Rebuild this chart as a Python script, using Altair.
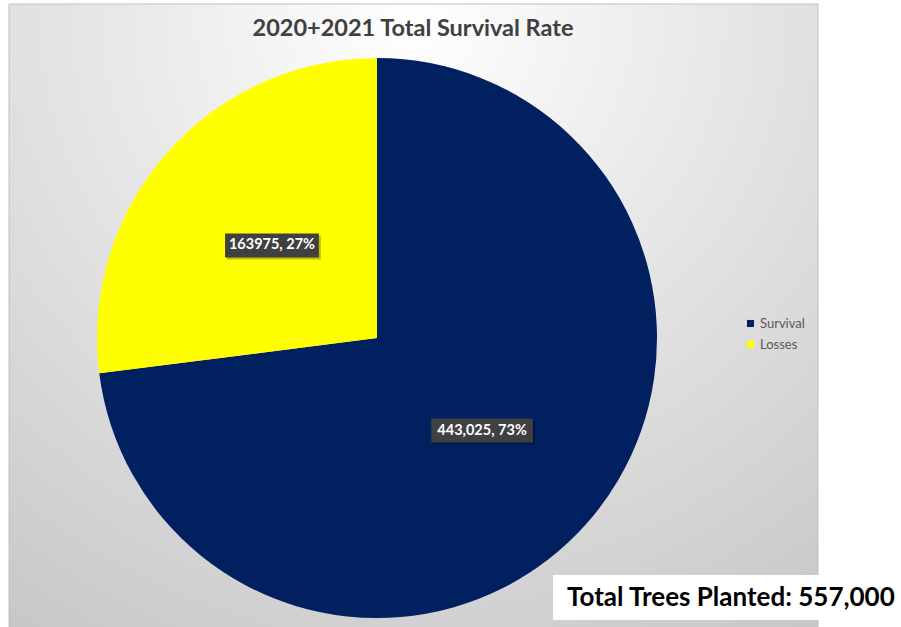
import altair as alt
import pandas as pd

# ---- data ----
categories = ["Survival", "Losses"]
values = [443025, 163975]
labels = ["443,025, 73%", "163975, 27%"]
slice_order = [1, 2]
colors = ["#002060", "#FFFF00"]
title_text = "2020+2021 Total Survival Rate"
total_planted = 557000

df = pd.DataFrame({"category": categories, "value": values,
                   "label": labels, "order": slice_order})
dummy = pd.DataFrame({"d": [0]})

W, H = 901, 627
CX, CY, R = 377, 338, 280
LR = 140
FONT = "Lato"

bg = alt.Chart(dummy).mark_rect(
    color=alt.Gradient(
        gradient="radial",
        stops=[alt.GradientStop(color="#ffffff", offset=0),
               alt.GradientStop(color="#c4c4c4", offset=1)],
        x1=0.5, y1=0.12, r1=0, x2=0.5, y2=0.12, r2=0.95),
    stroke="#c0c0c0", strokeWidth=1,
).encode(x=alt.value(9), x2=alt.value(818), y=alt.value(4), y2=alt.value(650))

pie = alt.Chart(df).mark_arc(outerRadius=R).encode(
    theta=alt.Theta("value:Q", stack=True),
    color=alt.Color("category:N",
                    scale=alt.Scale(domain=categories, range=colors),
                    legend=alt.Legend(title=None, orient="none",
                                      legendX=744, legendY=317,
                                      symbolType="square", symbolSize=50,
                                      symbolStrokeWidth=0,
                                      labelFont=FONT, labelFontSize=13,
                                      labelColor="#595959", rowPadding=7,
                                      labelOffset=3)),
    order=alt.Order("order:Q"),
    x=alt.value(CX), y=alt.value(CY),
)

base = (alt.Chart(df)
        .transform_joinaggregate(total="sum(value)")
        .transform_window(cum="sum(value)", sort=[alt.SortField("order")], frame=[None, 0])
        .transform_calculate(mid="(datum.cum - datum.value/2)/datum.total*2*PI")
        .transform_calculate(px=f"{CX} + {LR}*sin(datum.mid)")
        .transform_calculate(py=f"{CY} - {LR}*cos(datum.mid)")
        .transform_calculate(hw="length(datum.label)*3.9 + 4")
        .transform_calculate(x1="datum.px - datum.hw")
        .transform_calculate(x2="datum.px + datum.hw")
        .transform_calculate(y1="datum.py - 12")
        .transform_calculate(y2="datum.py + 12"))

shadow = base.mark_rect(color="#000000", opacity=0.25, xOffset=2, yOffset=2, x2Offset=2, y2Offset=2).encode(
    x=alt.X("x1:Q", scale=None, axis=None), x2="x2:Q",
    y=alt.Y("y1:Q", scale=None, axis=None), y2="y2:Q")

boxes = base.mark_rect(color="#404040").encode(
    x=alt.X("x1:Q", scale=None, axis=None), x2="x2:Q",
    y=alt.Y("y1:Q", scale=None, axis=None), y2="y2:Q")

texts = base.mark_text(font=FONT, fontSize=14.5, fontWeight="bold", color="white",
                       align="center", baseline="middle").encode(
    x=alt.X("px:Q", scale=None, axis=None),
    y=alt.Y("py:Q", scale=None, axis=None),
    text="label:N")

title = alt.Chart(dummy).mark_text(font=FONT, fontSize=23.5, fontWeight="bold",
                                   color="#404040", align="center", baseline="middle").encode(
    x=alt.value(413), y=alt.value(29), text=alt.value(title_text))

note_box = alt.Chart(dummy).mark_rect(color="white").encode(
    x=alt.value(553), x2=alt.value(901), y=alt.value(575), y2=alt.value(620))

note = alt.Chart(dummy).mark_text(font=FONT, fontSize=26, fontWeight="bold",
                                  color="black", align="left", baseline="middle").encode(
    x=alt.value(567), y=alt.value(598),
    text=alt.value(f"Total Trees Planted: {total_planted:,}"))

chart = alt.layer(bg, pie, shadow, boxes, texts, title, note_box, note).properties(
    width=W, height=H, padding=0, background="white",
    autosize=alt.AutoSizeParams(type="none"),
).configure_view(stroke=None)

chart.save("out.html", embed_options={"renderer": "svg", "actions": False})
